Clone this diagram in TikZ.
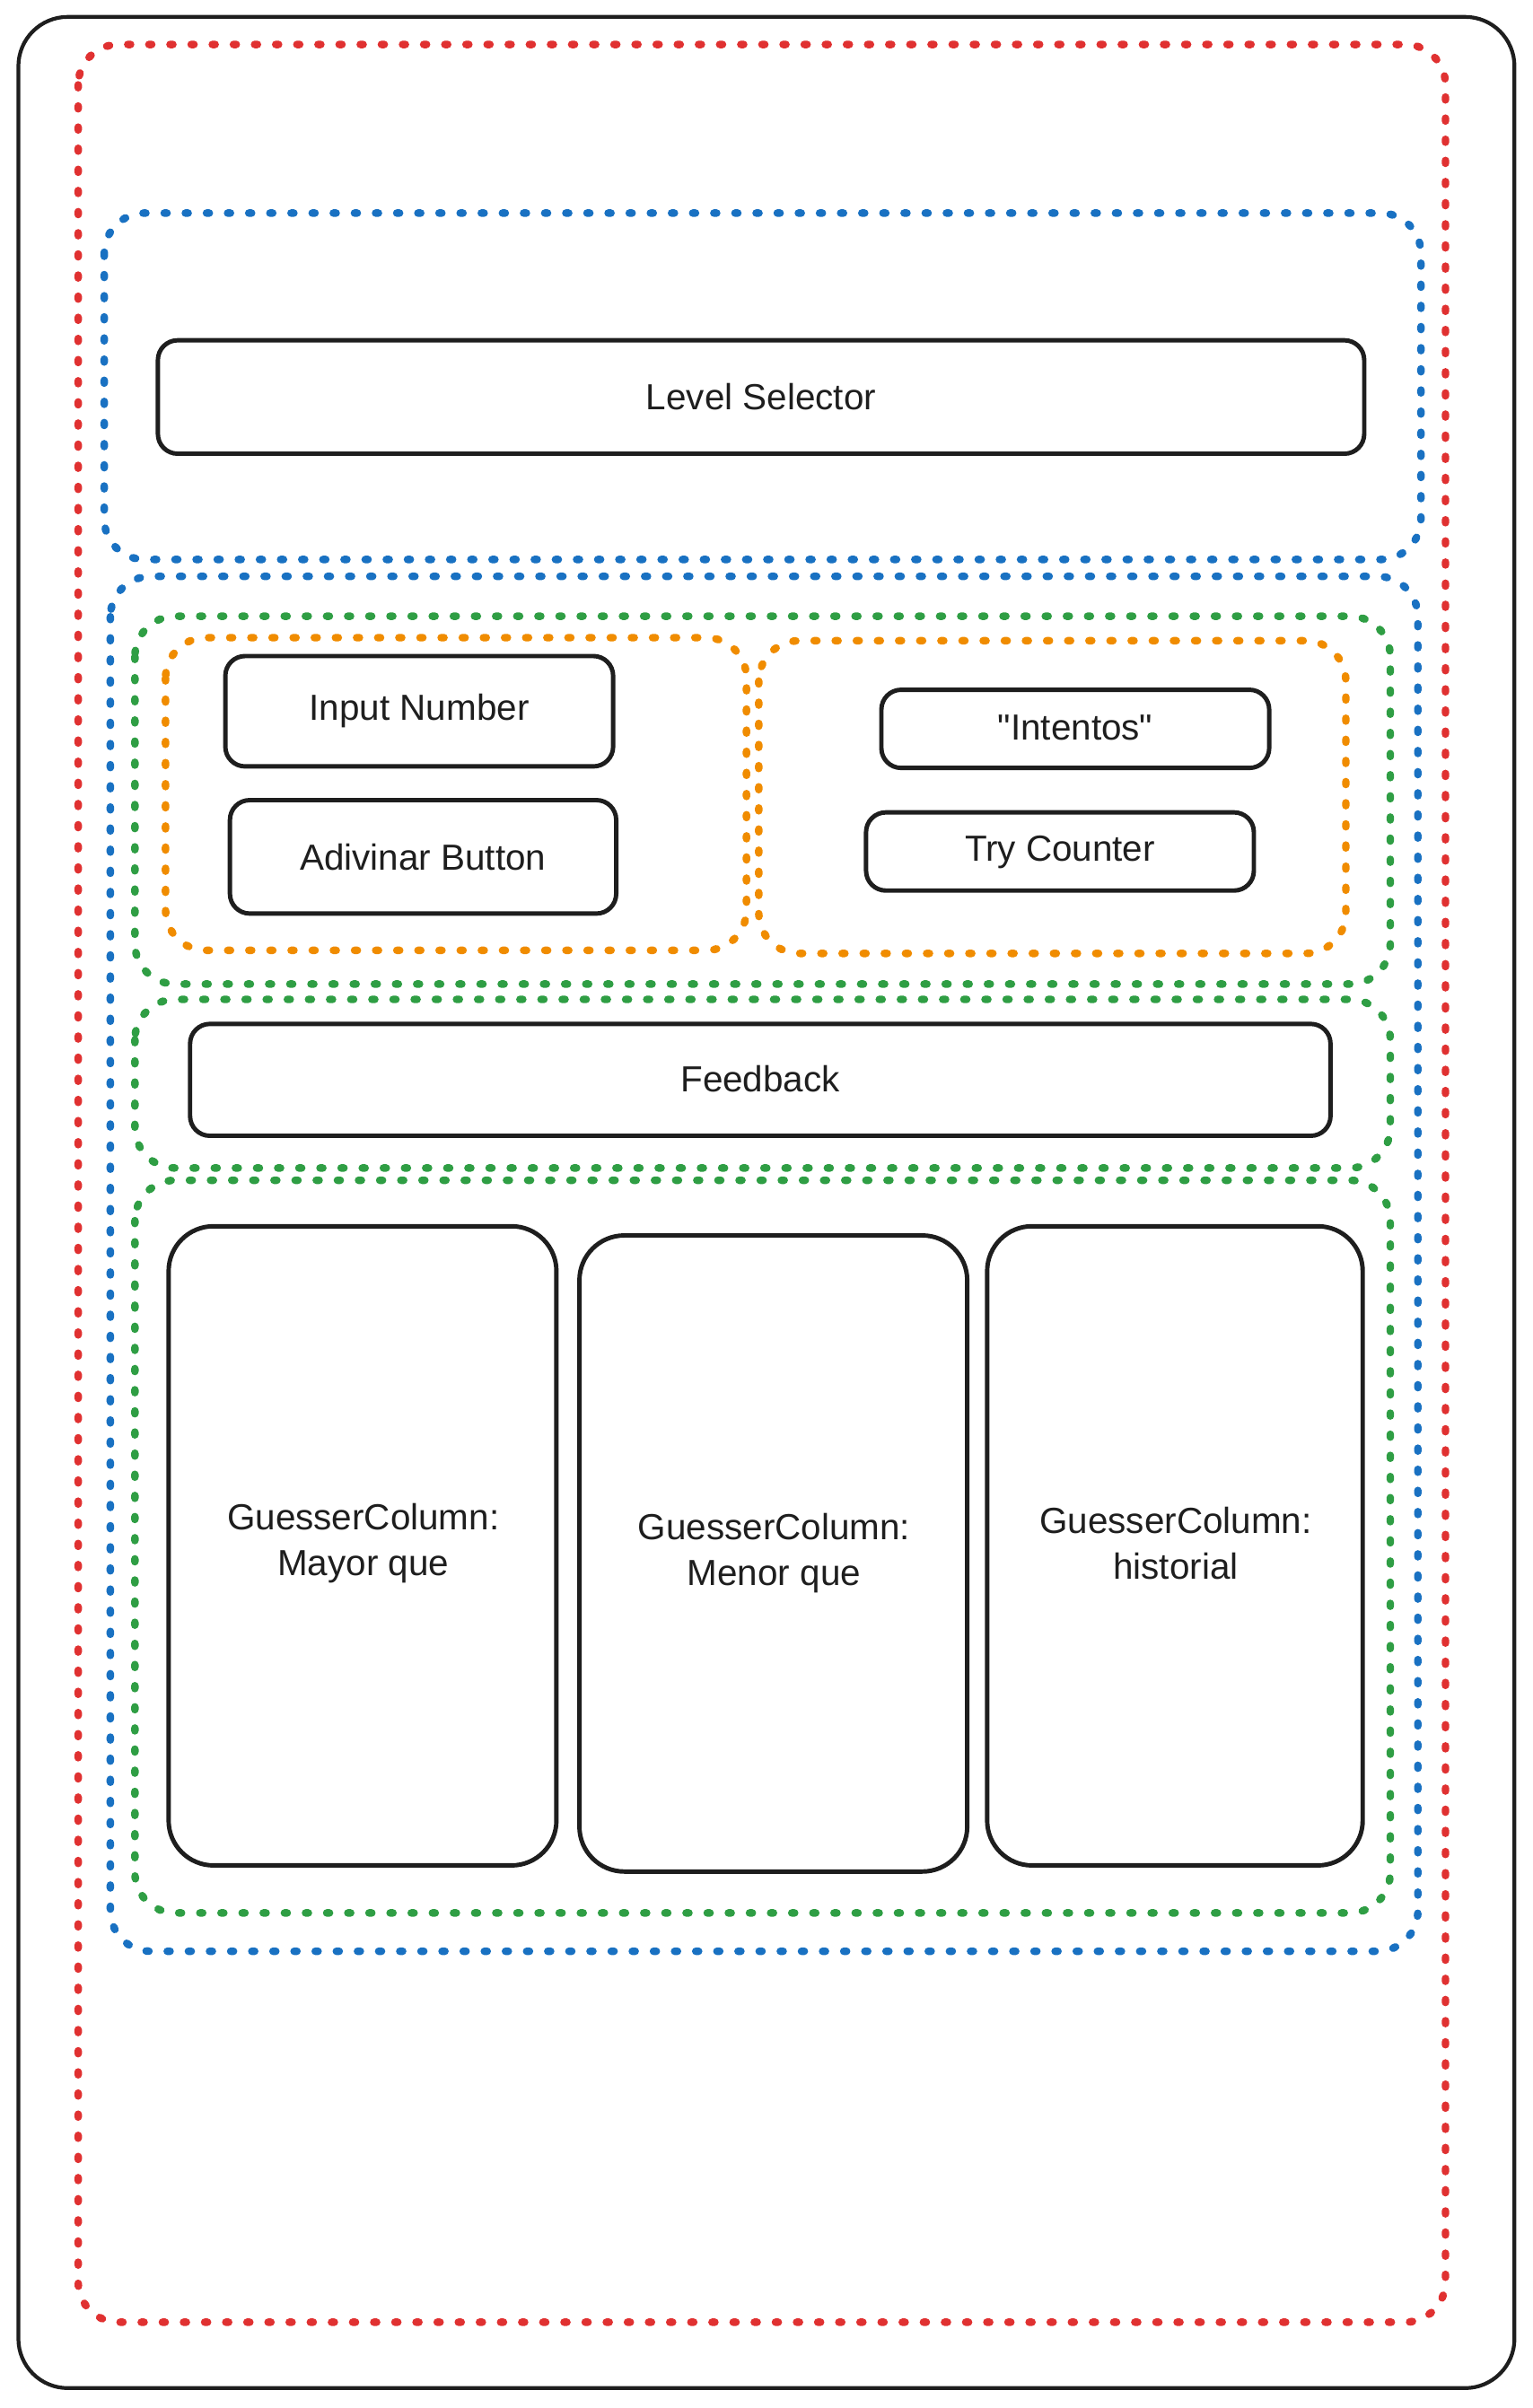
\documentclass[tikz,border=0pt]{standalone}
\usepackage{fontspec}
\setmainfont{Liberation Sans}
\definecolor{ink}{HTML}{1E1E1E}
\definecolor{frameRed}{HTML}{E03131}
\definecolor{frameBlue}{HTML}{1971C2}
\definecolor{frameGreen}{HTML}{2F9E44}
\definecolor{frameOrange}{HTML}{F08C00}
\tikzset{
  sketchbox/.style={draw=ink, line width=1.4pt, rounded corners=0.22cm},
  sketchcol/.style={draw=ink, line width=1.4pt, rounded corners=0.5cm},
  dotframe/.style={line width=2.4pt, line cap=round, dash pattern=on 0.9pt off 5.8pt, rounded corners=0.45cm},
  boxtext/.style={font=\fontsize{11.5}{14.5}\selectfont, text=ink, align=center, inner sep=0pt},
}
\begin{document}
\begin{tikzpicture}[x=0.01708cm, y=-0.01708cm]
\useasboundingbox (0,0) rectangle (1000,1571);

% Outer frame of the app
\draw [draw=ink, line width=1.2pt, rounded corners=0.55cm] (12,11) rectangle (988,1558);%

% Page container (red)
\draw [dotframe, draw=frameRed] (51,29) rectangle (943,1515);%

% Header container (blue)
\draw [dotframe, draw=frameBlue] (68,139) rectangle (927,365);%

% Drawing box Level Selector
\draw [sketchbox] (103,222) rectangle (890,296);%
\node [boxtext] (levelSelector) at (496.5,259) {Level Selector};%

% Game container (blue)
\draw [dotframe, draw=frameBlue] (72,376) rectangle (925,1273);%

% Controls row (green)
\draw [dotframe, draw=frameGreen] (88,402) rectangle (907,642);%

% Input group (orange)
\draw [dotframe, draw=frameOrange] (108,416) rectangle (487,620);%

% Drawing box Input Number
\draw [sketchbox] (147,428) rectangle (400,500);%
\node [boxtext] (inputNumber) at (273.5,464) {Input Number};%

% Drawing box Adivinar Button
\draw [sketchbox] (150,522) rectangle (402,596);%
\node [boxtext] (adivinarButton) at (276,559) {Adivinar Button};%

% Counter group (orange)
\draw [dotframe, draw=frameOrange] (495,418) rectangle (878,622);%

% Drawing box "Intentos"
\draw [sketchbox] (575,450) rectangle (828,501);%
\node [boxtext] (intentos) at (701.5,475) {\textquotedbl Intentos\textquotedbl};%

% Drawing box Try Counter
\draw [sketchbox] (565,530) rectangle (818,581);%
\node [boxtext] (tryCounter) at (691.5,556) {Try Counter};%

% Feedback row (green)
\draw [dotframe, draw=frameGreen] (88,652) rectangle (907,762);%

% Drawing box Feedback
\draw [sketchbox] (124,668) rectangle (868,741);%
\node [boxtext] (feedback) at (496,704) {Feedback};%

% Columns row (green)
\draw [dotframe, draw=frameGreen] (88,770) rectangle (907,1248);%

% Drawing column Mayor que
\draw [sketchcol] (110,800) rectangle (363,1217);%
\node [boxtext] (colMayor) at (237,1007) {GuesserColumn:\\Mayor que};%

% Drawing column Menor que
\draw [sketchcol] (378,806) rectangle (631,1221);%
\node [boxtext] (colMenor) at (505,1013) {GuesserColumn:\\Menor que};%

% Drawing column historial
\draw [sketchcol] (644,800) rectangle (889,1217);%
\node [boxtext] (colHistorial) at (767,1007) {GuesserColumn:\\historial};%
\end{tikzpicture}
\end{document}
